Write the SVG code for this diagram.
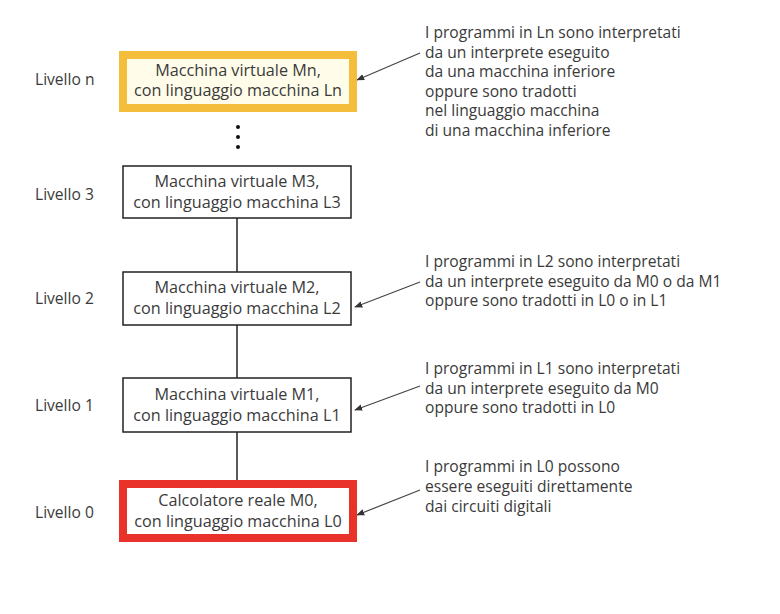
<svg xmlns="http://www.w3.org/2000/svg" width="780" height="614" viewBox="0 0 780 614">
<style>
text{font-family:"Open Sans","Liberation Sans",sans-serif;font-size:15.6px;fill:#3a3a3a}
.c{text-anchor:middle;font-size:16.2px}
.box{fill:#fff;stroke:#222;stroke-width:1.5}
.conn{stroke:#222;stroke-width:1.5;fill:none}
.arr{stroke:#444;stroke-width:1.2;fill:none;marker-end:url(#ah)}
</style>
<defs>
<marker id="ah" viewBox="0 0 10 10" refX="9" refY="5" markerWidth="8" markerHeight="8" markerUnits="userSpaceOnUse" orient="auto">
<path d="M0,1 L10,5 L0,9 Z" fill="#333"/>
</marker>
</defs>
<rect width="780" height="614" fill="#fff"/>
<g id="connectors">
<line class="conn" x1="237" y1="217" x2="237" y2="272"/>
<line class="conn" x1="237" y1="325" x2="237" y2="378"/>
<line class="conn" x1="237" y1="432" x2="237" y2="481"/>
<line class="arr" x1="420" y1="53" x2="357" y2="80"/>
<line class="arr" x1="420" y1="282" x2="355" y2="307"/>
<line class="arr" x1="420" y1="386" x2="355" y2="410"/>
<line class="arr" x1="420" y1="490" x2="357" y2="515"/>
</g>
<g id="dots" fill="#111">
<circle cx="238" cy="127" r="2"/>
<circle cx="238" cy="137" r="2"/>
<circle cx="238" cy="147" r="2"/>
</g>
<g id="node-mn">
<rect x="123" y="55" width="230" height="53" fill="#fffde9" stroke="#f4bd3c" stroke-width="8"/>
<text class="c" x="238" y="76">Macchina virtuale Mn,</text>
<text class="c" x="238" y="96">con linguaggio macchina Ln</text>
</g>
<g id="node-m3">
<rect class="box" x="123" y="166" width="228" height="52"/>
<text class="c" x="237" y="187">Macchina virtuale M3,</text>
<text class="c" x="237" y="208">con linguaggio macchina L3</text>
</g>
<g id="node-m2">
<rect class="box" x="123" y="272" width="228" height="53"/>
<text class="c" x="237" y="293">Macchina virtuale M2,</text>
<text class="c" x="237" y="314">con linguaggio macchina L2</text>
</g>
<g id="node-m1">
<rect class="box" x="123" y="378" width="228" height="54"/>
<text class="c" x="237" y="400">Macchina virtuale M1,</text>
<text class="c" x="237" y="421">con linguaggio macchina L1</text>
</g>
<g id="node-m0">
<rect x="123" y="484" width="230" height="54" fill="#fff" stroke="#e8322a" stroke-width="8"/>
<text class="c" x="238" y="506">Calcolatore reale M0,</text>
<text class="c" x="238" y="527">con linguaggio macchina L0</text>
</g>
<g id="levels">
<text x="35" y="85">Livello n</text>
<text x="35" y="200">Livello 3</text>
<text x="35" y="304">Livello 2</text>
<text x="35" y="411">Livello 1</text>
<text x="35" y="518">Livello 0</text>
</g>
<g id="note-ln">
<text x="425" y="38">I programmi in Ln sono interpretati</text>
<text x="425" y="58">da un interprete eseguito</text>
<text x="425" y="77">da una macchina inferiore</text>
<text x="425" y="97">oppure sono tradotti</text>
<text x="425" y="116">nel linguaggio macchina</text>
<text x="425" y="136">di una macchina inferiore</text>
</g>
<g id="note-l2">
<text x="425" y="267">I programmi in L2 sono interpretati</text>
<text x="425" y="287">da un interprete eseguito da M0 o da M1</text>
<text x="425" y="306">oppure sono tradotti in L0 o in L1</text>
</g>
<g id="note-l1">
<text x="425" y="374">I programmi in L1 sono interpretati</text>
<text x="425" y="394">da un interprete eseguito da M0</text>
<text x="425" y="413">oppure sono tradotti in L0</text>
</g>
<g id="note-l0">
<text x="425" y="472">I programmi in L0 possono</text>
<text x="425" y="492">essere eseguiti direttamente</text>
<text x="425" y="512">dai circuiti digitali</text>
</g>
</svg>
